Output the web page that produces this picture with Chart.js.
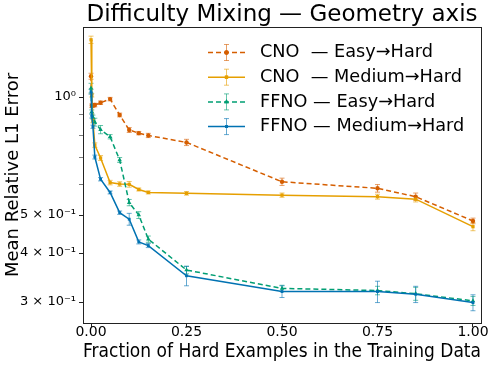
<!DOCTYPE html>
<html><head><meta charset="utf-8">
<script src="https://cdn.jsdelivr.net/npm/chart.js@4"></script>
<style>html,body{margin:0;padding:0;background:#fff}</style>
</head><body>
<canvas id="c" width="493" height="365"></canvas>
<script>
// ---- data ----
const fractions = [0, 0.002, 0.005, 0.01, 0.025, 0.05, 0.075, 0.1, 0.125, 0.15, 0.25, 0.5, 0.75, 0.85, 1.0];
const cnoEasy    = [1.13, 0.95, 0.952, 0.954, 0.967, 0.988, 0.900, 0.824, 0.809, 0.798, 0.766, 0.608, 0.585, 0.557, 0.483];
const cnoMedium  = [1.40, 1.01, 0.87, 0.754, 0.699, 0.605, 0.600, 0.599, 0.581, 0.571, 0.568, 0.562, 0.557, 0.549, 0.467];
const ffnoEasy   = [1.054, 0.917, 0.889, 0.863, 0.826, 0.792, 0.691, 0.538, 0.500, 0.434, 0.362, 0.325, 0.321, 0.315, 0.302];
const ffnoMedium = [1.032, 0.894, 0.840, 0.703, 0.617, 0.571, 0.507, 0.488, 0.427, 0.418, 0.350, 0.319, 0.319, 0.314, 0.299];
const cnoEasyErr    = [0.02, 0.01, 0.01, 0.01, 0.01, 0.01, 0.01, 0.012, 0.008, 0.01, 0.014, 0.013, 0.013, 0.012, 0.008];
const cnoMediumErr  = [0.03, 0.01, 0.01, 0.01, 0.01, 0.008, 0.008, 0.01, 0.005, 0.005, 0.006, 0.007, 0.008, 0.009, 0.011];
const ffnoEasyErr   = [0.03, 0.01, 0.01, 0.02, 0.02, 0.01, 0.01, 0.01, 0.01, 0.008, 0.008, 0.006, 0.008, 0.012, 0.008];
const ffnoMediumErr = [0.015, 0.01, 0.008, 0.008, 0.006, 0.005, 0.005, 0.017, 0.005, 0.005, 0.02, 0.011, 0.02, 0.015, 0.014];
const seriesLabels = ['CNO  \u2014 Easy\u2192Hard', 'CNO  \u2014 Medium\u2192Hard', 'FFNO \u2014 Easy\u2192Hard', 'FFNO \u2014 Medium\u2192Hard'];
const titleText = 'Difficulty Mixing \u2014 Geometry axis';
const xTicks = [0, 0.25, 0.5, 0.75, 1.0];
const xTickLabels = ['0.00', '0.25', '0.50', '0.75', '1.00'];
const yTicks = [0.3, 0.4, 0.5, 0.6, 0.7, 0.8, 0.9, 1.0];
const yTickLabels = ['3 \u00d7 10\u207b\u00b9', '4 \u00d7 10\u207b\u00b9', '5 \u00d7 10\u207b\u00b9', '', '', '', '', '10\u2070'];

const FONT = 'DejaVu Sans';
const styles = [
  {color: '#D55E00', dash: [5, 3], pt: 'circle', r: 2.2},
  {color: '#E69F00', dash: [], pt: 'rect', r: 2.3},
  {color: '#009E73', dash: [5, 3], pt: 'triangle', r: 2.6},
  {color: '#0072B2', dash: [], pt: 'rect', r: 2.0},
];
const values = [cnoEasy, cnoMedium, ffnoEasy, ffnoMedium];
const errors = [cnoEasyErr, cnoMediumErr, ffnoEasyErr, ffnoMediumErr];

function alpha(hex, a) {
  const n = parseInt(hex.slice(1), 16);
  return `rgba(${n >> 16},${(n >> 8) & 255},${n & 255},${a})`;
}

const datasets = values.map((vals, i) => ({
  label: seriesLabels[i],
  data: fractions.map((x, j) => ({x: x, y: vals[j]})),
  borderColor: styles[i].color,
  backgroundColor: styles[i].color,
  borderWidth: 1.5,
  borderDash: styles[i].dash,
  pointStyle: styles[i].pt,
  pointRadius: styles[i].r,
  pointBorderWidth: 0,
  tension: 0,
  order: 4 - i,
}));

const errorBars = {
  id: 'errorBars',
  beforeDatasetsDraw(chart) {
    const ctx = chart.ctx, xs = chart.scales.x, ys = chart.scales.y;
    ctx.save();
    values.forEach((vals, i) => {
      ctx.strokeStyle = alpha(styles[i].color, 0.6);
      ctx.lineWidth = 1;
      vals.forEach((v, j) => {
        const e = errors[i][j];
        const x = xs.getPixelForValue(fractions[j]);
        const y1 = ys.getPixelForValue(v - e), y2 = ys.getPixelForValue(v + e);
        ctx.beginPath();
        ctx.moveTo(x, y1); ctx.lineTo(x, y2);
        ctx.moveTo(x - 2.5, y1); ctx.lineTo(x + 2.5, y1);
        ctx.moveTo(x - 2.5, y2); ctx.lineTo(x + 2.5, y2);
        ctx.stroke();
      });
    });
    ctx.restore();
  }
};

const framePlugin = {
  id: 'frameAndTitle',
  afterDraw(chart) {
    const ctx = chart.ctx, a = chart.chartArea;
    ctx.save();
    ctx.strokeStyle = '#222';
    ctx.lineWidth = 1;
    ctx.strokeRect(Math.round(a.left) + 0.5, Math.round(a.top) + 0.5, Math.round(a.right - a.left), Math.round(a.bottom - a.top));
    ctx.fillStyle = '#000';
    ctx.font = `23px "${FONT}"`;
    ctx.textAlign = 'center';
    ctx.textBaseline = 'alphabetic';
    ctx.fillText(titleText, (a.left + a.right) / 2, a.top - 6);
    ctx.restore();
  }
};

const legendPlugin = {
  id: 'insideLegend',
  afterDraw(chart) {
    const ctx = chart.ctx, a = chart.chartArea;
    const x0 = a.left + 125, x1 = x0 + 37, xm = (x0 + x1) / 2, tx = x1 + 15;
    ctx.save();
    seriesLabels.forEach((lab, i) => {
      const y = a.top + 25.5 + i * 24.7;
      const s = styles[i];
      ctx.strokeStyle = alpha(s.color, 0.6);
      ctx.lineWidth = 1;
      ctx.setLineDash([]);
      ctx.beginPath();
      ctx.moveTo(xm, y - 8); ctx.lineTo(xm, y + 8);
      ctx.moveTo(xm - 2.5, y - 8); ctx.lineTo(xm + 2.5, y - 8);
      ctx.moveTo(xm - 2.5, y + 8); ctx.lineTo(xm + 2.5, y + 8);
      ctx.stroke();
      ctx.strokeStyle = s.color;
      ctx.lineWidth = 1.5;
      ctx.setLineDash(s.dash);
      ctx.beginPath();
      ctx.moveTo(x0, y); ctx.lineTo(x1, y);
      ctx.stroke();
      ctx.setLineDash([]);
      ctx.fillStyle = s.color;
      Chart.helpers.drawPoint(ctx, {pointStyle: s.pt, radius: s.r, borderWidth: 0}, xm, y);
      ctx.fill();
      ctx.fillStyle = '#000';
      ctx.font = `17.7px "${FONT}"`;
      ctx.textBaseline = 'middle';
      ctx.textAlign = 'left';
      ctx.fillText(lab, tx, y);
    });
    ctx.restore();
  }
};

new Chart(document.getElementById('c'), {
  type: 'line',
  data: {datasets},
  plugins: [errorBars, framePlugin, legendPlugin],
  options: {
    responsive: false,
    animation: false,
    devicePixelRatio: 1,
    layout: {padding: {left: 0, right: 12, top: 27, bottom: 0}},
    plugins: {
      legend: {display: false},
      tooltip: {enabled: false},
      title: {display: false},
    },
    scales: {
      x: {
        type: 'linear',
        min: -0.021, max: 1.021,
        afterBuildTicks: s => { s.ticks = xTicks.map(v => ({value: v})); },
        afterFit: s => { s.height = 42; },
        ticks: {
          color: '#000', font: {family: FONT, size: 14}, padding: -3, maxRotation: 0,
          callback: (v) => xTickLabels[xTicks.indexOf(v)],
        },
        grid: {display: true, drawOnChartArea: false, drawTicks: true, tickLength: 4, color: '#222'},
        border: {color: '#222', width: 1},
        title: {display: true, text: 'Fraction of Hard Examples in the Training Data', color: '#000',
                font: {family: FONT, size: 19}, padding: {top: 0, bottom: 2}},
      },
      y: {
        type: 'logarithmic',
        min: 0.2652, max: 1.509,
        afterBuildTicks: s => { s.ticks = yTicks.map(v => ({value: v})); },
        afterFit: s => { s.width = 83; },
        ticks: {
          color: '#000', font: {family: FONT, size: 13}, padding: 3, autoSkip: false,
          callback: (v) => yTickLabels[yTicks.indexOf(v)],
        },
        grid: {display: true, drawOnChartArea: false, drawTicks: true, color: '#222',
               tickLength: 4, tickWidth: c => (c.tick && [0.3, 0.4, 0.5, 1.0].includes(c.tick.value)) ? 1 : 0.6},
        border: {color: '#222', width: 1},
        title: {display: true, text: 'Mean Relative L1 Error', color: '#000',
                font: {family: FONT, size: 18}, padding: {top: 3, bottom: 0}},
      },
    },
  },
});
</script>
</body></html>
